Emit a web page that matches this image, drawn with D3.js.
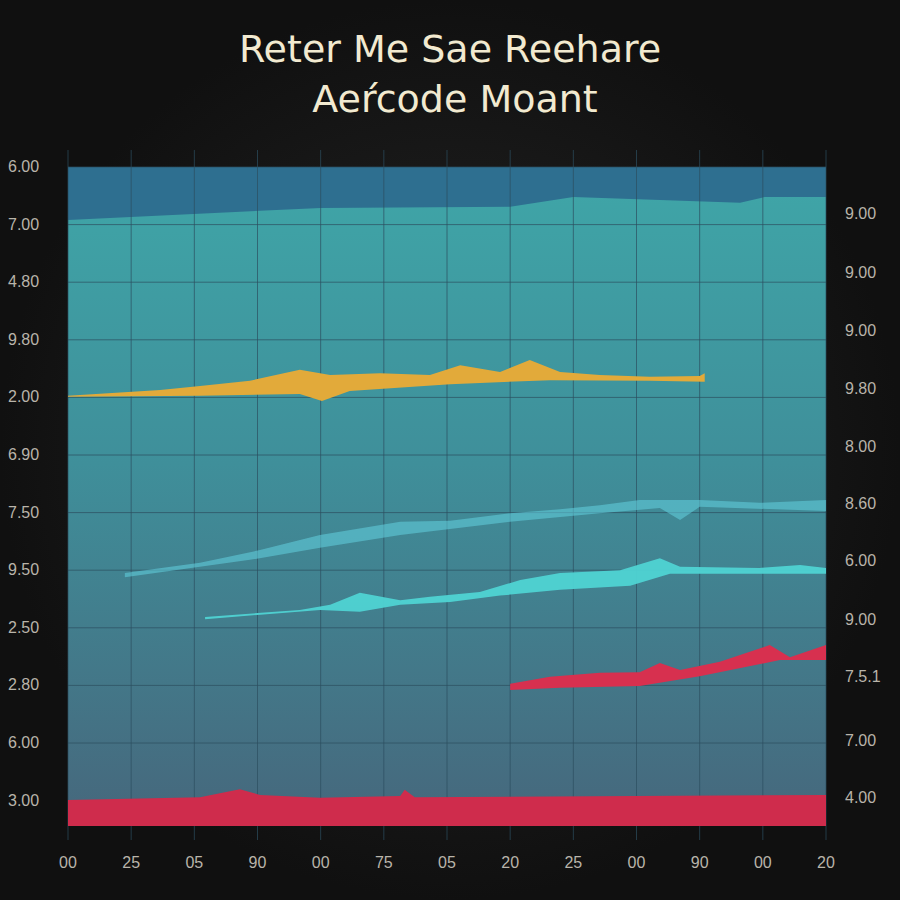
<!DOCTYPE html><html><head><meta charset="utf-8">
<script src="https://cdn.jsdelivr.net/npm/d3@7"></script>
<style>body{margin:0;background:#161616}</style></head><body>
<script>
const xTicks=["00","25","05","90","00","75","05","20","25","00","90","00","20"];
const leftTicks=["6.00","7.00","4.80","9.80","2.00","6.90","7.50","9.50","2.50","2.80","6.00","3.00"];
const rightTicks=["9.00","9.00","9.00","9.80","8.00","8.60","6.00","9.00","7.5.1","7.00","4.00"];
const topBand=[[0,10.52],[4,10.73],[7,10.75],[8,10.92],[10.64,10.82],[11.03,10.92],[12,10.92]];
const yellowU=[[0,7.47],[1.46,7.57],[2.09,7.64],[2.88,7.73],[3.67,7.92],[4.15,7.83],[4.94,7.86],[5.73,7.83],[6.21,8.0],[6.84,7.88],[7.31,8.09],[7.79,7.88],[8.42,7.83],[9.21,7.80],[10.0,7.81],[10.08,7.86]];
const yellowL=[[0,7.45],[2.09,7.47],[3.67,7.5],[4.02,7.38],[4.46,7.55],[6.05,7.67],[7.63,7.74],[9.21,7.73],[10.08,7.71]];
const cyan1U=[[0.9,4.39],[2.09,4.57],[3.04,4.79],[3.99,5.05],[5.26,5.28],[6.05,5.30],[7.0,5.43],[7.79,5.50],[8.42,5.57],[9.05,5.66],[10.0,5.66],[10.95,5.61],[12,5.66]];
const cyan1L=[[0.9,4.32],[2.88,4.62],[3.99,4.83],[5.26,5.05],[7.0,5.28],[8.42,5.43],[9.37,5.52],[9.69,5.31],[10.0,5.54],[12,5.47]];
const cyan2U=[[2.17,3.63],[3.67,3.75],[4.15,3.84],[4.62,4.05],[5.26,3.92],[5.73,3.98],[6.52,4.06],[7.16,4.27],[7.79,4.39],[8.74,4.44],[9.37,4.65],[9.69,4.50],[10.95,4.48],[11.59,4.53],[12,4.48]];
const cyan2L=[[2.17,3.59],[3.99,3.75],[4.62,3.72],[5.26,3.84],[6.05,3.89],[6.84,4.0],[7.79,4.10],[8.9,4.17],[9.53,4.38],[10.95,4.38],[12,4.38]];
const redU=[[7.0,2.47],[7.63,2.59],[8.42,2.66],[9.05,2.67],[9.37,2.83],[9.69,2.71],[10.32,2.85],[11.11,3.14],[11.43,2.93],[12,3.14]];
const redL=[[7.0,2.36],[7.79,2.40],[9.05,2.43],[10.0,2.60],[11.27,2.88],[12,2.88]];
const bottomU=[[0,0.45],[2.09,0.5],[2.72,0.64],[3.04,0.54],[3.99,0.49],[5.26,0.52],[5.33,0.63],[5.49,0.5],[12,0.54]];

const svg=d3.select("body").append("svg").attr("width",900).attr("height",900);
const defs=svg.append("defs");
const bg=defs.append("radialGradient").attr("id","bg");
bg.append("stop").attr("offset","0%").attr("stop-color","#262626");
bg.append("stop").attr("offset","100%").attr("stop-color","#101010");
svg.append("rect").attr("width",900).attr("height",900).attr("fill","url(#bg)");
const pg=defs.append("linearGradient").attr("id","pg").attr("x1",0).attr("x2",0).attr("y1",0).attr("y2",1);
pg.append("stop").attr("offset","0%").attr("stop-color","#3fa6a8");
pg.append("stop").attr("offset","45%").attr("stop-color","#3f8f9a");
pg.append("stop").attr("offset","100%").attr("stop-color","#46677c");

const x=d3.scaleLinear().domain([0,12]).range([68,826]);
const y=d3.scaleLinear().domain([0,11.44]).range([826,167]);
svg.append("rect").attr("x",x(0)).attr("y",y(11.44)).attr("width",x(12)-x(0)).attr("height",y(0)-y(11.44)).attr("fill","url(#pg)");
const area=d3.area().x(d=>x(d[0])).y0(y(11.44)).y1(d=>y(d[1]));
svg.append("path").attr("d",area(topBand)).attr("fill","#2e6f90");

const g=svg.append("g").attr("stroke","#2c4f60").attr("stroke-opacity",0.7);
d3.range(13).forEach(i=>g.append("line").attr("x1",x(i)).attr("x2",x(i)).attr("y1",150).attr("y2",840));
leftTicks.forEach((t,i)=>g.append("line").attr("x1",x(0)).attr("x2",x(12)).attr("y1",167+i*57.6).attr("y2",167+i*57.6));

function band(u,l,col,op){
  const pts=u.map(d=>[x(d[0]),y(d[1])]).concat(l.slice().reverse().map(d=>[x(d[0]),y(d[1])]));
  svg.append("path").attr("d",d3.line()(pts)+"Z").attr("fill",col).attr("fill-opacity",op);
}
band(yellowU,yellowL,"#e2aa3a",1);
band(cyan1U,cyan1L,"#62d2e0",0.55);
band(cyan2U,cyan2L,"#4fd3d3",0.95);
band(redU,redL,"#d7304f",1);
band(bottomU,[[0,0],[12,0]],"#cf2c4c",1);

const tc="#b9b4aa";
leftTicks.forEach((t,i)=>svg.append("text").attr("x",8).attr("y",167+i*57.6+5).text(t).attr("fill",tc).attr("font-family","Liberation Sans").attr("font-size",16));
rightTicks.forEach((t,i)=>svg.append("text").attr("x",845).attr("y",[214,273,331,389,447,504,561,620,677,741,798][i]+5).text(t).attr("fill",tc).attr("font-family","Liberation Sans").attr("font-size",16));
xTicks.forEach((t,i)=>svg.append("text").attr("x",x(i)).attr("y",868).attr("text-anchor","middle").text(t).attr("fill",tc).attr("font-family","Liberation Sans").attr("font-size",16));
svg.append("text").attr("x",450).attr("y",62).attr("text-anchor","middle").text("Reter Me Sae Reehare").attr("fill","#f2ead0").attr("font-family","DejaVu Sans").attr("font-size",38);
svg.append("text").attr("x",455).attr("y",112).attr("text-anchor","middle").text("Aer\u0301code Moant").attr("fill","#f2ead0").attr("font-family","DejaVu Sans").attr("font-size",38);
</script></body></html>
